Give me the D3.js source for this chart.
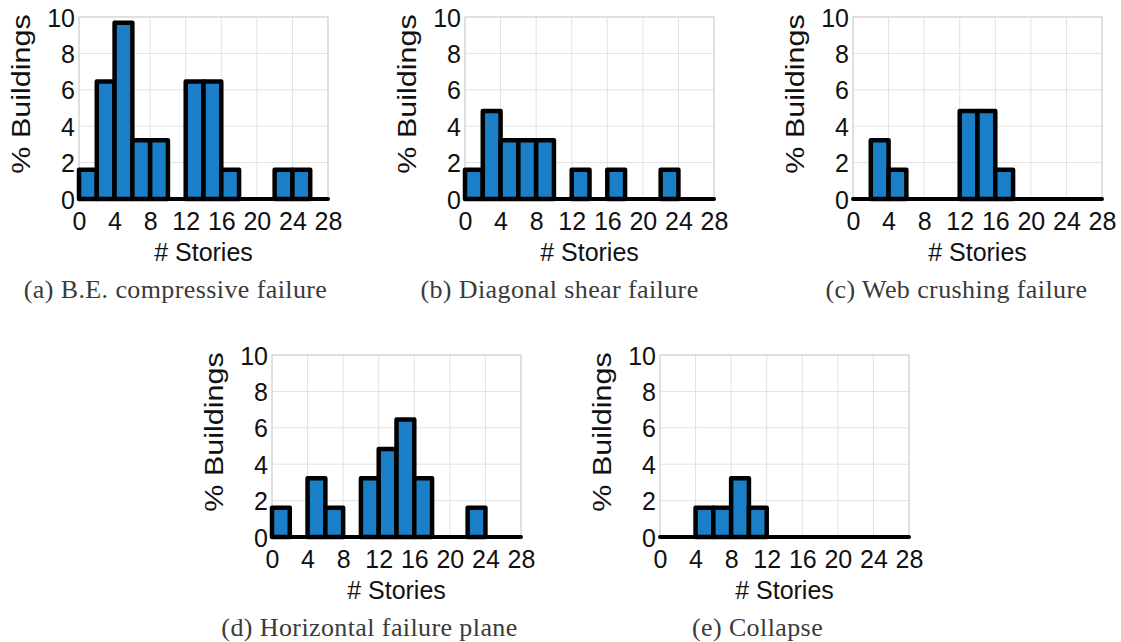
<!DOCTYPE html>
<html><head><meta charset="utf-8">
<script src="https://cdn.jsdelivr.net/npm/d3@7"></script>
<style>body{margin:0;background:#fff}svg{display:block}</style>
</head><body>
<svg id="c" width="1121" height="642"></svg>
<script>
const binEdges = [0,2,4,6,8,10,12,14,16,18,20,22,24,26,28];
const xTicks = [0,4,8,12,16,20,24,28];
const yTicks = [0,2,4,6,8,10];
const seriesA = [1.61,6.45,9.68,3.23,3.23,0,6.45,6.45,1.61,0,0,1.61,1.61,0];
const seriesB = [1.61,4.84,3.23,3.23,3.23,0,1.61,0,1.61,0,0,1.61,0,0];
const seriesC = [0,3.23,1.61,0,0,0,4.84,4.84,1.61,0,0,0,0,0];
const seriesD = [1.61,0,3.23,1.61,0,3.23,4.84,6.45,3.23,0,0,1.61,0,0];
const seriesE = [0,0,1.61,1.61,3.23,1.61,0,0,0,0,0,0,0,0];
const captions = ["(a) B.E. compressive failure","(b) Diagonal shear failure","(c) Web crushing failure","(d) Horizontal failure plane","(e) Collapse"];

const panels = [
  {vals:seriesA, x0:79, top:17, cap:captions[0], capDx:-28},
  {vals:seriesB, x0:465, top:17, cap:captions[1], capDx:-30},
  {vals:seriesC, x0:853, top:17, cap:captions[2], capDx:-21},
  {vals:seriesD, x0:272, top:355, cap:captions[3], capDx:-27},
  {vals:seriesE, x0:660, top:355, cap:captions[4], capDx:-27}
];
const W = 249, H = 182;
const svg = d3.select("#c");
const SANS = "Liberation Sans, Arial, Helvetica, sans-serif";

panels.forEach(p => {
  const g = svg.append("g").attr("transform", `translate(${p.x0},${p.top})`);
  const x = d3.scaleLinear().domain([0,28]).range([0,W]);
  const y = d3.scaleLinear().domain([0,10]).range([H,0]);
  // grid
  g.append("g").selectAll("line").data(xTicks).join("line")
    .attr("x1",d=>x(d)).attr("x2",d=>x(d)).attr("y1",0).attr("y2",H)
    .attr("stroke","#e2e2e2").attr("stroke-width",1);
  g.append("g").selectAll("line").data(yTicks).join("line")
    .attr("x1",0).attr("x2",W).attr("y1",d=>y(d)).attr("y2",d=>y(d))
    .attr("stroke","#e2e2e2").attr("stroke-width",1);
  g.append("rect").attr("x",0).attr("y",0).attr("width",W).attr("height",H)
    .attr("fill","none").attr("stroke","#cfcfcf").attr("stroke-width",1);
  // axes
  const xa = g.append("g").attr("transform",`translate(0,${H})`)
    .call(d3.axisBottom(x).tickValues(xTicks).tickSize(0).tickPadding(0));
  const ya = g.append("g")
    .call(d3.axisLeft(y).tickValues(yTicks).tickSize(0).tickPadding(4));
  [xa,ya].forEach(a=>{
    a.select(".domain").remove();
    a.selectAll("text").attr("font-family",SANS)
      .attr("font-size",25).attr("fill","#111");
  });
  ya.selectAll("text").attr("dy","0.36em");
  xa.selectAll("text").attr("dy",0).attr("y",31);
  // bars
  const bins = p.vals.map((v,i)=>({x0:binEdges[i], x1:binEdges[i+1], v}));
  g.append("g").selectAll("line").data(bins.filter(d=>d.v===0)).join("line")
    .attr("x1",d=>x(d.x0)).attr("x2",d=>x(d.x1)).attr("y1",y(0)).attr("y2",y(0))
    .attr("stroke","#000").attr("stroke-width",4).attr("stroke-linecap","round");
  g.append("g").selectAll("rect").data(bins.filter(d=>d.v>0)).join("rect")
    .attr("x",d=>x(d.x0)).attr("width",d=>x(d.x1)-x(d.x0))
    .attr("y",d=>y(d.v)).attr("height",d=>y(0)-y(d.v))
    .attr("fill","#1a7fc6").attr("stroke","#000").attr("stroke-width",4.5)
    .attr("stroke-linejoin","round");
  // labels
  g.append("text").attr("x",W/2).attr("y",H+62).attr("text-anchor","middle")
    .attr("font-family",SANS).attr("font-size",25)
    .attr("fill","#111").text("# Stories");
  g.append("text").attr("transform",`translate(${-49},${H/2-14}) rotate(-90) scale(1.22,1)`)
    .attr("text-anchor","middle")
    .attr("font-family",SANS).attr("font-size",25)
    .attr("fill","#111").text("% Buildings");
  g.append("text").attr("x",W/2+p.capDx).attr("y",H+99).attr("text-anchor","middle")
    .attr("font-family","Liberation Serif, Times New Roman, serif").attr("font-size",26)
    .attr("letter-spacing","0.4px")
    .attr("fill","#3a3a3a").text(p.cap);
});
</script>
</body></html>
